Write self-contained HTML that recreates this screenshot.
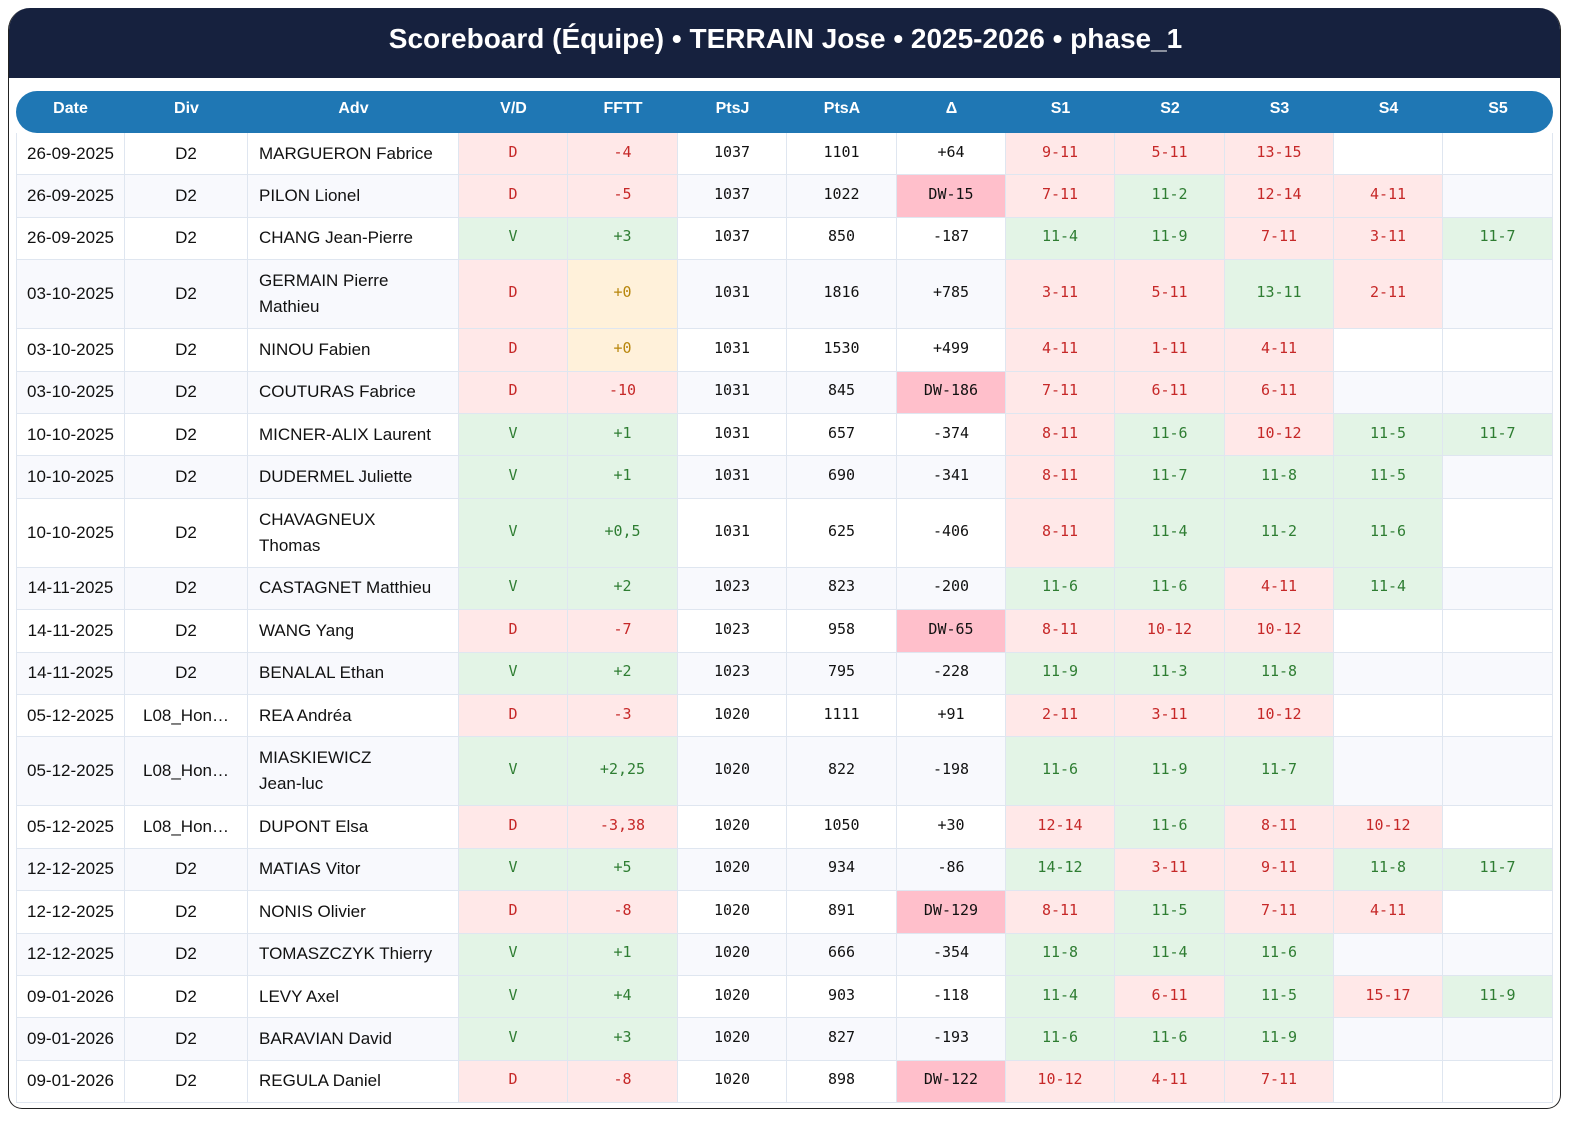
<!DOCTYPE html>
<html><head><meta charset="utf-8">
<style>
html,body{margin:0;padding:0;background:#fff}
#wrap{position:relative;width:1591px;height:1126px;overflow:hidden;background:#fff}
#card{position:absolute;left:8px;top:8px;width:1551px;height:1100px;border:1.5px solid #222;border-top:none;border-radius:22px 22px 14px 14px;overflow:hidden;background:#fff}
#title{position:absolute;left:0;top:0;width:1553px;height:70px;background:#16213e;color:#fff;font:bold 28px "Liberation Sans",sans-serif;text-align:center;line-height:62px}
#hdr{position:absolute;left:16px;top:91px;width:1537px;height:42px;background:#1f77b4;border-radius:21px;color:#fff;font:bold 16px "Liberation Sans",sans-serif}
#hdr div{position:absolute;top:0;line-height:36px;text-align:center}
.c{position:absolute;box-sizing:border-box;border-right:1px solid #dfe6f0;border-bottom:1px solid #dfe6f0;display:flex;align-items:center;justify-content:center;font:15px "DejaVu Sans Mono",monospace;color:#111;padding-bottom:4px}
.c.t{font:17px "Liberation Sans",sans-serif;line-height:26px;padding-bottom:0}
.c.adv{justify-content:flex-start;padding-left:11px}
.c.r{color:#c62828;background:#ffe8e8}.c.g{color:#2e7d32;background:#e3f4e6}.c.y{color:#b8860b;background:#fff1da}.c.dw{background:#ffbfcb}
</style></head><body>
<div id="wrap">
<div id="card">
<div id="title">Scoreboard (Équipe) • TERRAIN Jose • 2025-2026 • phase_1</div>
</div>
<div id="hdr"></div>
<div id="tb"></div>
</div>
<script>
const headers=["Date","Div","Adv","V/D","FFTT","PtsJ","PtsA","Δ","S1","S2","S3","S4","S5"];
const dates=["26-09-2025","26-09-2025","26-09-2025","03-10-2025","03-10-2025","03-10-2025","10-10-2025","10-10-2025","10-10-2025","14-11-2025","14-11-2025","14-11-2025","05-12-2025","05-12-2025","05-12-2025","12-12-2025","12-12-2025","12-12-2025","09-01-2026","09-01-2026","09-01-2026"];
const divs=["D2","D2","D2","D2","D2","D2","D2","D2","D2","D2","D2","D2","L08_Hon…","L08_Hon…","L08_Hon…","D2","D2","D2","D2","D2","D2"];
const advs=["MARGUERON Fabrice","PILON Lionel","CHANG Jean-Pierre","GERMAIN Pierre<br>Mathieu","NINOU Fabien","COUTURAS Fabrice","MICNER-ALIX Laurent","DUDERMEL Juliette","CHAVAGNEUX<br>Thomas","CASTAGNET Matthieu","WANG Yang","BENALAL Ethan","REA Andréa","MIASKIEWICZ<br>Jean-luc","DUPONT Elsa","MATIAS Vitor","NONIS Olivier","TOMASZCZYK Thierry","LEVY Axel","BARAVIAN David","REGULA Daniel"];
const results=["D","D","V","D","D","D","V","V","V","V","D","V","D","V","D","V","D","V","V","V","D"];
const fftt=["-4","-5","+3","+0","+0","-10","+1","+1","+0,5","+2","-7","+2","-3","+2,25","-3,38","+5","-8","+1","+4","+3","-8"];
const ptsJ=[1037,1037,1037,1031,1031,1031,1031,1031,1031,1023,1023,1023,1020,1020,1020,1020,1020,1020,1020,1020,1020];
const ptsA=[1101,1022,850,1816,1530,845,657,690,625,823,958,795,1111,822,1050,934,891,666,903,827,898];
const deltas=["+64","DW-15","-187","+785","+499","DW-186","-374","-341","-406","-200","DW-65","-228","+91","-198","+30","-86","DW-129","-354","-118","-193","DW-122"];
const sets=[
["9-11","5-11","13-15","",""],["7-11","11-2","12-14","4-11",""],["11-4","11-9","7-11","3-11","11-7"],
["3-11","5-11","13-11","2-11",""],["4-11","1-11","4-11","",""],["7-11","6-11","6-11","",""],
["8-11","11-6","10-12","11-5","11-7"],["8-11","11-7","11-8","11-5",""],["8-11","11-4","11-2","11-6",""],
["11-6","11-6","4-11","11-4",""],["8-11","10-12","10-12","",""],["11-9","11-3","11-8","",""],
["2-11","3-11","10-12","",""],["11-6","11-9","11-7","",""],["12-14","11-6","8-11","10-12",""],
["14-12","3-11","9-11","11-8","11-7"],["8-11","11-5","7-11","4-11",""],["11-8","11-4","11-6","",""],
["11-4","6-11","11-5","15-17","11-9"],["11-6","11-6","11-9","",""],["10-12","4-11","7-11","",""]];
const widths=[109,123,211,109,110,109,110,109,109,110,109,109,110];
const hdr=document.getElementById('hdr');let x=0;const lefts=[];
headers.forEach((h,i)=>{const d=document.createElement('div');


d.style.left=x+'px';d.style.width=widths[i]+'px';d.textContent=h;hdr.appendChild(d);lefts.push(16+x);x+=widths[i];});
const tb=document.getElementById('tb');
let y=133;
function cell(col,top,h,bg,html,cls,name){const d=document.createElement('div');d.className='c '+cls;
d.style.left=lefts[col]+'px';d.style.top=top+'px';d.style.width=widths[col]+'px';d.style.height=h+'px';
if(!/[rgyd]/.test(cls.replace('t','').replace('adv','').trim().slice(0,2))||cls.trim()===''||cls==='t'||cls==='t adv')d.style.background=bg;
if(col===0)d.style.borderLeft='1px solid #dfe6f0';
d.innerHTML=html;


tb.appendChild(d);}
dates.forEach((dt,i)=>{
const tall=advs[i].includes('<br>');const h=tall?69:42.4;
const bg=i%2?'#f8f9fd':'#fff';
cell(0,y,h,bg,dt,'t','date-cell');cell(1,y,h,bg,divs[i],'t','div-cell');cell(2,y,h,bg,advs[i],'t adv','opponent-cell');
const w=results[i]==='V';
cell(3,y,h,bg,results[i],w?'g':'r','result-cell');
const f=fftt[i];cell(4,y,h,bg,f,(f==='+0')?'y':(f[0]==='-'?'r':'g'),'fftt-cell');
cell(5,y,h,bg,ptsJ[i],'','player-points-cell');cell(6,y,h,bg,ptsA[i],'','opponent-points-cell');
cell(7,y,h,bg,deltas[i],deltas[i].startsWith('DW')?'dw':'','delta-cell');
sets[i].forEach((s,k)=>{let c='';if(s){const p=s.split('-').map(Number);c=p[0]>p[1]?'g':'r';}cell(8+k,y,h,bg,s,c,'set-'+(k+1)+'-cell');});
y+=h;});
</script>
</body></html>
